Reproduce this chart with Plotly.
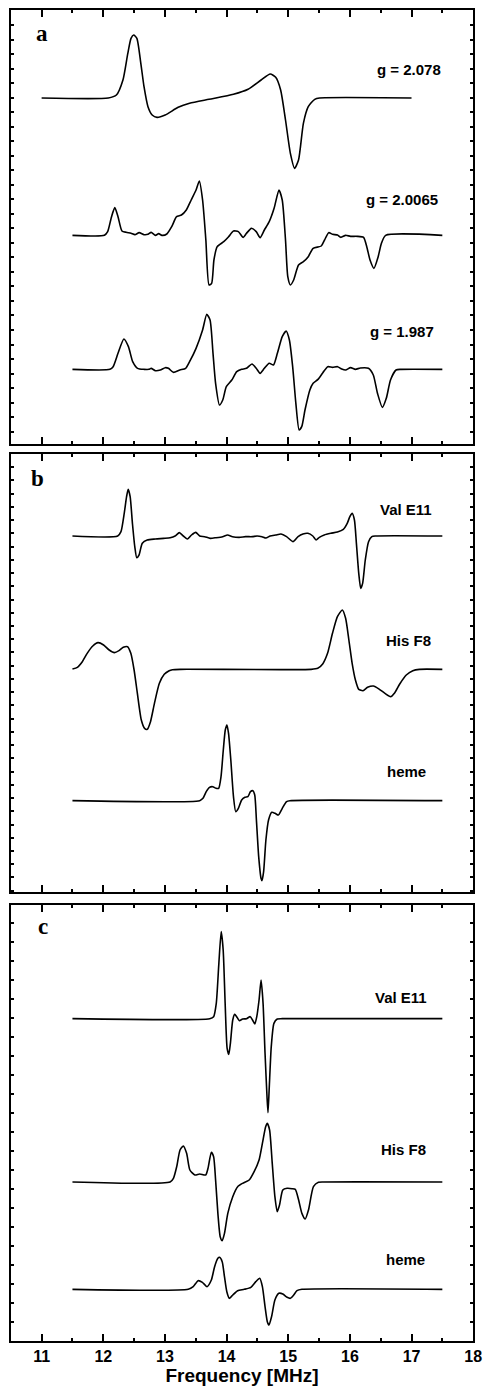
import plotly.graph_objects as go

# ---------------- data (frequency in MHz, amplitude in arbitrary units) -------------
# Panel a
a1_f = [11.0, 12.081, 12.213, 12.319, 12.398, 12.450, 12.493, 12.545, 12.609, 12.661, 12.725, 12.793,
        12.872, 13.004, 13.215, 13.400, 13.716, 14.112, 14.349, 14.560, 14.708, 14.797, 14.877, 14.956,
        15.035, 15.103, 15.167, 15.246, 15.325, 15.430, 15.509, 17.0]
a1_y = [0, 0, 9, 54, 134, 179, 189, 179, 104, 34, -26, -51,
        -58, -51, -28, -16, -4, 11, 26, 54, 72, 62, 24, -66,
        -166, -211, -186, -76, -26, -4, 0, 0]

a2_f = [11.5, 12.018, 12.071, 12.134, 12.187, 12.239, 12.303, 12.371, 12.450, 12.514, 12.582, 12.661,
        12.725, 12.777, 12.846, 12.899, 12.951, 13.031, 13.110, 13.189, 13.268, 13.347, 13.426, 13.505,
        13.558, 13.611, 13.664, 13.716, 13.758, 13.795, 13.848, 13.954, 14.033, 14.112, 14.191, 14.270,
        14.323, 14.402, 14.481, 14.544, 14.613, 14.692, 14.771, 14.850, 14.903, 14.956, 14.993, 15.035,
        15.088, 15.167, 15.246, 15.325, 15.404, 15.536, 15.589, 15.657, 15.720, 15.800, 15.852, 15.931,
        16.011, 16.116, 16.222, 16.274, 16.327, 16.390, 16.459, 16.512, 16.580, 17.5]
a2_y = [0, 0, 11, 56, 83, 56, 13, 9, 6, 2, 8, 2,
        3, 9, 0, 5, 0, 4, 26, 56, 61, 76, 106, 136,
        163, 106, -14, -149, -144, -74, -34, -19, -4, 13, 11, -6,
        6, 21, 11, -7, 16, 41, 81, 136, 106, -14, -124, -149,
        -134, -89, -79, -64, -39, -32, -14, 8, 3, 1, -6, 0,
        -3, -3, -6, -34, -74, -99, -64, -24, 0, 0]

a3_f = [11.5, 12.108, 12.160, 12.239, 12.334, 12.408, 12.477, 12.556, 12.661, 12.741, 12.777, 12.846,
        12.925, 13.004, 13.057, 13.136, 13.242, 13.336, 13.400, 13.505, 13.611, 13.679, 13.732, 13.780,
        13.822, 13.885, 13.938, 13.996, 14.085, 14.165, 14.244, 14.323, 14.412, 14.481, 14.544, 14.613,
        14.692, 14.761, 14.824, 14.903, 14.966, 15.019, 15.072, 15.124, 15.177, 15.219, 15.272, 15.351,
        15.404, 15.483, 15.562, 15.641, 15.720, 15.800, 15.868, 15.931, 16.011, 16.090, 16.169, 16.301,
        16.380, 16.448, 16.527, 16.591, 16.659, 16.749, 16.828, 17.5]
a3_y = [0, 0, 8, 48, 91, 68, 23, 3, 0, 0, 3, -4,
        -2, 5, 3, -9, -2, 3, 23, 63, 118, 165, 148, 48,
        -42, -107, -92, -52, -32, -7, 0, 3, 16, 3, -12, 3,
        18, 13, 48, 98, 115, 88, 8, -102, -182, -172, -122, -62,
        -42, -30, -10, 8, 6, 8, 1, -2, 5, 0, 4, 3,
        -17, -72, -114, -87, -32, -2, 0, 0]

# Panel b
b1_f = [11.5, 12.234, 12.287, 12.340, 12.378, 12.404, 12.436, 12.473, 12.511, 12.543, 12.580, 12.633,
        12.713, 12.846, 12.979, 13.085, 13.165, 13.234, 13.298, 13.367, 13.431, 13.500, 13.564, 13.644,
        13.734, 13.830, 13.936, 14.016, 14.096, 14.202, 14.309, 14.415, 14.495, 14.574, 14.638, 14.707,
        14.798, 14.883, 14.973, 15.080, 15.160, 15.239, 15.319, 15.399, 15.452, 15.505, 15.585, 15.691,
        15.798, 15.894, 15.957, 16.000, 16.037, 16.074, 16.106, 16.144, 16.176, 16.207, 16.250, 16.303,
        16.356, 16.410, 17.5]
b1_y = [0, 0, 13, 68, 118, 140, 118, 38, -32, -65, -57, -22,
        -12, -9, -7, -5, 0, 10, 0, -9, 3, 11, 0, -2,
        -7, -5, -2, 3, -2, -4, -2, -2, 0, -2, -6, 0,
        3, 6, -2, -17, -2, 6, 8, 0, -12, -4, 3, 8,
        12, 20, 38, 58, 68, 48, -22, -112, -157, -142, -72, -17,
        -2, 0, 0]

b2_f = [11.5, 11.580, 11.660, 11.739, 11.830, 11.915, 12.005, 12.096, 12.181, 12.255, 12.324, 12.394,
        12.447, 12.500, 12.553, 12.617, 12.670, 12.713, 12.766, 12.830, 12.910, 12.989, 13.069, 13.122,
        13.255, 15.372, 15.479, 15.559, 15.638, 15.718, 15.798, 15.878, 15.931, 15.984, 16.037, 16.090,
        16.144, 16.213, 16.287, 16.383, 16.479, 16.569, 16.660, 16.729, 16.809, 16.915, 17.021, 17.128, 17.5]
b2_y = [1, 6, 23, 48, 70, 80, 73, 58, 50, 56, 66, 68,
        48, -2, -72, -152, -177, -180, -157, -102, -42, -15, -4, -1,
        0, 0, 3, 16, 48, 108, 158, 178, 153, 88, 18, -32,
        -60, -64, -54, -50, -60, -72, -82, -70, -44, -17, -4, 0, 0]

b3_f = [11.5, 13.564, 13.617, 13.670, 13.723, 13.777, 13.830, 13.872, 13.910, 13.947, 13.979, 14.005,
        14.032, 14.069, 14.112, 14.149, 14.191, 14.245, 14.298, 14.346, 14.388, 14.426, 14.457, 14.484,
        14.521, 14.559, 14.574, 14.601, 14.638, 14.681, 14.734, 14.787, 14.840, 14.904, 14.973, 15.027, 17.5]
b3_y = [0, 0, 7, 27, 40, 42, 37, 37, 72, 152, 212, 227,
        202, 122, 12, -33, -23, 2, 10, 12, 27, 30, 17, -58,
        -168, -233, -240, -213, -118, -58, -35, -38, -43, -23, -3, 0, 0]

# Panel c
c1_f = [11.5, 13.726, 13.790, 13.833, 13.875, 13.913, 13.945, 13.977, 14.009, 14.036, 14.062, 14.100,
        14.132, 14.164, 14.207, 14.260, 14.324, 14.383, 14.421, 14.458, 14.490, 14.527, 14.560, 14.592,
        14.624, 14.656, 14.672, 14.693, 14.725, 14.768, 14.822, 14.902, 17.5]
c1_y = [0, 0, 6, 46, 166, 261, 206, 46, -89, -107, -74, -4,
        13, 6, -6, -1, 0, 6, -4, -16, 6, 56, 116, 46,
        -104, -234, -282, -204, -84, -14, -1, 0, 0]

c2_f = [11.5, 13.084, 13.138, 13.191, 13.245, 13.298, 13.352, 13.405, 13.485, 13.565, 13.662, 13.699,
        13.753, 13.790, 13.822, 13.859, 13.897, 13.929, 13.966, 14.020, 14.100, 14.180, 14.260, 14.367,
        14.447, 14.527, 14.581, 14.634, 14.661, 14.698, 14.741, 14.784, 14.822, 14.859, 14.912, 14.982,
        15.062, 15.115, 15.169, 15.222, 15.276, 15.329, 15.409, 15.490, 15.570, 17.5]
c2_y = [0, 0, 11, 46, 96, 108, 86, 36, 21, 24, 21, 41,
        89, 76, 6, -94, -164, -176, -154, -94, -44, -14, -4, 6,
        31, 66, 116, 166, 176, 156, 56, -44, -89, -69, -24, -19,
        -20, -22, -54, -94, -111, -84, -14, -1, 0, 0]

c3_f = [11.5, 13.378, 13.459, 13.539, 13.608, 13.683, 13.753, 13.806, 13.859, 13.886, 13.929, 13.966,
        14.004, 14.046, 14.100, 14.180, 14.287, 14.394, 14.474, 14.538, 14.581, 14.624, 14.661, 14.688,
        14.730, 14.784, 14.848, 14.912, 14.982, 15.035, 15.089, 15.142, 15.222, 17.5]
c3_y = [0, 0, 8, 26, 21, 8, 28, 68, 93, 96, 83, 38,
        -7, -27, -17, -4, 0, 6, 23, 33, 8, -52, -97, -107,
        -82, -32, -12, -14, -24, -27, -17, -4, 0, 0]

# stacking offsets (baseline level of each spectrum)
offsets_a = [1038, 626, 224]
offsets_b = [1068, 668, 274]
offsets_c = [967, 477, 155]

labels_a = ["g = 2.078", "g = 2.0065", "g = 1.987"]
labels_bc = ["Val E11", "His F8", "heme"]
panel_letters = ["a", "b", "c"]

x_ticks = [11, 12, 13, 14, 15, 16, 17, 18]

# ---------------- figure ----------------
W, H = 491, 1399
fig = go.Figure()

line = dict(color="black", width=1.6, shape="spline", smoothing=0.6)

panels = [
    ([(a1_f, a1_y), (a2_f, a2_y), (a3_f, a3_y)], offsets_a, "x", "y"),
    ([(b1_f, b1_y), (b2_f, b2_y), (b3_f, b3_y)], offsets_b, "x2", "y2"),
    ([(c1_f, c1_y), (c2_f, c2_y), (c3_f, c3_y)], offsets_c, "x3", "y3"),
]
for series, offs, xa, ya in panels:
    for (f, y), off in zip(series, offs):
        fig.add_trace(go.Scatter(x=f, y=[v + off for v in y], mode="lines",
                                 line=line, xaxis=xa, yaxis=ya,
                                 showlegend=False, hoverinfo="skip"))

# panel pixel boxes (top, bottom) -> paper domains
boxes = [(10, 444), (454, 892), (905, 1341)]
yranges = [1302, 1314, 1308]
ydticks = [(37, 43.57), (4, 39.7), (0, 57)]
xdom = [11 / W, 482 / W]

def xaxis_cfg(show_labels, anchor):
    d = dict(domain=xdom, range=[10.5, 18], anchor=anchor,
             showline=True, linecolor="black", linewidth=2, mirror="ticks",
             ticks="inside", ticklen=7, tickwidth=2, tickcolor="black",
             tickvals=x_ticks, showgrid=False, zeroline=False,
             minor=dict(dtick=0.5, tick0=10.5, ticks="inside", ticklen=3,
                        tickwidth=1.5, tickcolor="black", showgrid=False),
             showticklabels=show_labels,
             tickfont=dict(family="Liberation Sans", size=16, color="black", weight="bold"))
    return d

def yaxis_cfg(i, anchor):
    top, bot = boxes[i]
    t0, dt = ydticks[i]
    return dict(domain=[1 - bot / H, 1 - top / H], range=[0, yranges[i]], anchor=anchor,
                showline=True, linecolor="black", linewidth=2, mirror="ticks",
                ticks="inside", ticklen=3, tickwidth=1.5, tickcolor="black",
                tick0=t0, dtick=dt, showticklabels=False,
                showgrid=False, zeroline=False)

layout = dict(width=W, height=H, margin=dict(l=0, r=0, t=0, b=0),
              paper_bgcolor="white", plot_bgcolor="white", showlegend=False)
layout["xaxis"] = xaxis_cfg(False, "y")
layout["xaxis2"] = xaxis_cfg(False, "y2")
layout["xaxis3"] = xaxis_cfg(True, "y3")
layout["xaxis3"]["title"] = dict(text="Frequency [MHz]", standoff=4,
                                  font=dict(family="Liberation Sans", size=19, color="black", weight="bold"))
layout["yaxis"] = yaxis_cfg(0, "x")
layout["yaxis2"] = yaxis_cfg(1, "x2")
layout["yaxis3"] = yaxis_cfg(2, "x3")
fig.update_layout(**layout)

# trace labels
label_pos_a = [(16.955, 1124), (16.84, 732), (16.84, 337)]
label_pos_b = [(16.915, 1148), (16.947, 756), (16.92, 363)]
label_pos_c = [(16.826, 1031), (16.868, 575), (16.90, 245)]
lab_font = dict(family="Liberation Sans", size=15, color="black", weight="bold")
for txt, (x, y) in zip(labels_a, label_pos_a):
    fig.add_annotation(x=x, y=y, xref="x", yref="y", text=txt, showarrow=False, font=lab_font)
for txt, (x, y) in zip(labels_bc, label_pos_b):
    fig.add_annotation(x=x, y=y, xref="x2", yref="y2", text=txt, showarrow=False, font=lab_font)
for txt, (x, y) in zip(labels_bc, label_pos_c):
    fig.add_annotation(x=x, y=y, xref="x3", yref="y3", text=txt, showarrow=False, font=lab_font)

letter_pos = [(11.01, 1230, "x", "y"), (10.93, 1241, "x2", "y2"), (11.03, 1243, "x3", "y3")]
for txt, (x, y, xr, yr) in zip(panel_letters, letter_pos):
    fig.add_annotation(x=x, y=y, xref=xr, yref=yr, text=txt, showarrow=False,
                       font=dict(family="Liberation Serif", size=23, color="black", weight="bold"))

fig.write_html("out.html")
